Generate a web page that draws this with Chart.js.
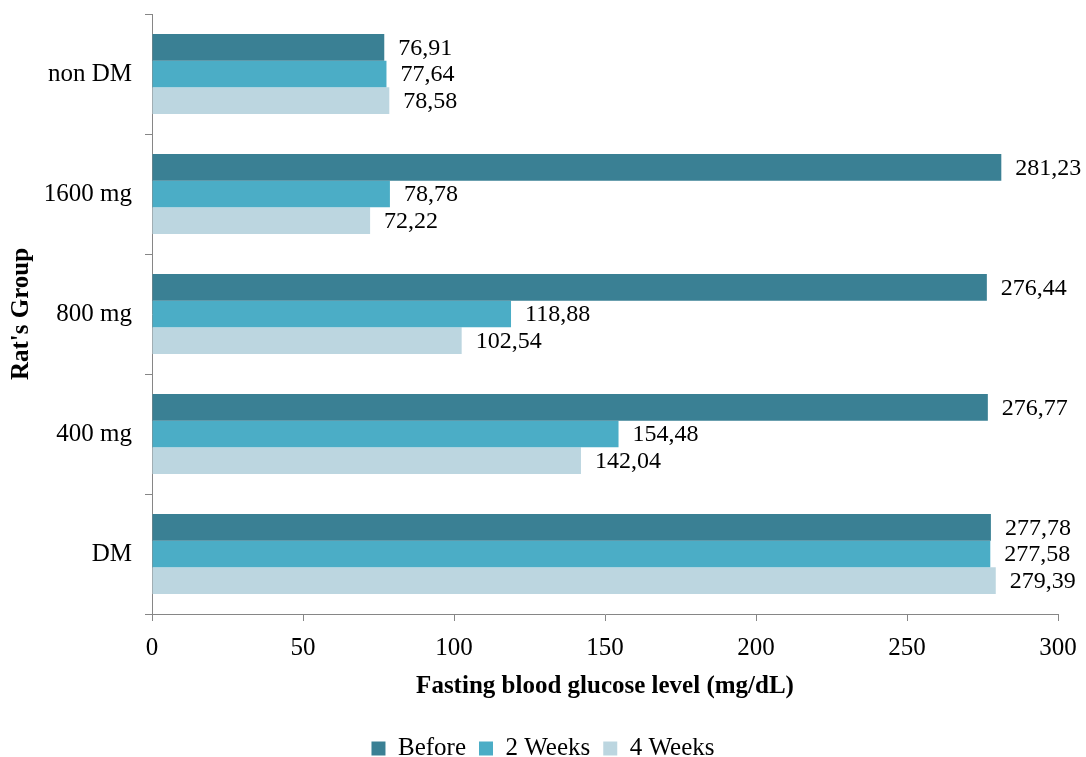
<!DOCTYPE html>
<html>
<head>
<meta charset="utf-8">
<script src="https://cdn.jsdelivr.net/npm/chart.js@4.4.1/dist/chart.umd.min.js"></script>
<style>
  html, body { margin: 0; padding: 0; background: #fff; }
  #wrap { width: 1086px; height: 757px; }
</style>
</head>
<body>
<div id="wrap"><canvas id="c" width="1086" height="757"></canvas></div>
<script>
// Rat groups, listed top to bottom
const groups = ['non DM', '1600 mg', '800 mg', '400 mg', 'DM'];
// Fasting blood glucose (mg/dL) per group
const before = [76.91, 281.23, 276.44, 276.77, 277.78];
const weeks2 = [77.64, 78.78, 118.88, 154.48, 277.58];
const weeks4 = [78.58, 72.22, 102.54, 142.04, 279.39];
const seriesNames = ['Before', '2 Weeks', '4 Weeks'];
const xTicks = [0, 50, 100, 150, 200, 250, 300];

const FONT = '"Liberation Serif", "Times New Roman", serif';
const AXIS = '#868686';

Chart.defaults.font.family = FONT;
Chart.defaults.color = '#000';

const fmt = v => v.toFixed(2).replace('.', ',');

// Writes each bar's value just past its end
const valueLabels = {
  id: 'valueLabels',
  afterDatasetsDraw(chart) {
    const ctx = chart.ctx;
    ctx.save();
    ctx.font = '24px ' + FONT;
    ctx.fillStyle = '#000';
    ctx.textAlign = 'left';
    ctx.textBaseline = 'middle';
    chart.data.datasets.forEach((ds, i) => {
      const meta = chart.getDatasetMeta(i);
      meta.data.forEach((bar, j) => {
        ctx.fillText(fmt(ds.data[j]), bar.x + 14, bar.y + 1);
      });
    });
    ctx.restore();
  }
};

// Fixed edge room around the plot; the right side keeps space for value labels
function edgePadding(scale, right) {
  scale.paddingTop = 0;
  scale.paddingBottom = 0;
  scale.paddingLeft = 0;
  scale.paddingRight = right;
}

new Chart(document.getElementById('c'), {
  type: 'bar',
  data: {
    labels: groups,
    datasets: [
      { label: seriesNames[0], data: before, backgroundColor: '#3a8094' },
      { label: seriesNames[1], data: weeks2, backgroundColor: '#4badc6' },
      { label: seriesNames[2], data: weeks4, backgroundColor: '#bcd6e0' }
    ]
  },
  options: {
    indexAxis: 'y',
    responsive: false,
    animation: false,
    devicePixelRatio: 1,
    layout: { padding: { top: 14, right: 0, left: 0, bottom: -14 } },
    datasets: { bar: { categoryPercentage: 0.667, barPercentage: 1.0 } },
    scales: {
      x: {
        min: 0, max: 300,
        afterBuildTicks(scale) { scale.ticks = xTicks.map(v => ({ value: v })); },
        afterFit(scale) { scale.height = 109; edgePadding(scale, 28); },
        grid: { drawOnChartArea: false, drawTicks: true, tickLength: 7, color: AXIS },
        border: { display: true, color: AXIS, width: 1 },
        ticks: { font: { size: 25 }, padding: 12, color: '#000' },
        title: {
          display: true,
          text: 'Fasting blood glucose level (mg/dL)',
          font: { size: 25, weight: 'bold' },
          padding: { top: 0, bottom: 21 }
        }
      },
      y: {
        afterFit(scale) { scale.width = 152; edgePadding(scale, 0); },
        grid: { drawOnChartArea: false, drawTicks: true, tickLength: 7, color: AXIS, offset: true },
        border: { display: true, color: AXIS, width: 1 },
        ticks: { font: { size: 25 }, padding: 13, color: '#000' },
        title: {
          display: true,
          text: "Rat's Group",
          font: { size: 25, weight: 'bold' },
          padding: { top: 7, bottom: 0 }
        }
      }
    },
    plugins: {
      legend: {
        position: 'bottom',
        labels: {
          boxWidth: 14,
          boxHeight: 14,
          padding: 13,
          font: { size: 25 },
          color: '#000'
        }
      },
      tooltip: { enabled: false }
    }
  },
  plugins: [valueLabels]
});
</script>
</body>
</html>
